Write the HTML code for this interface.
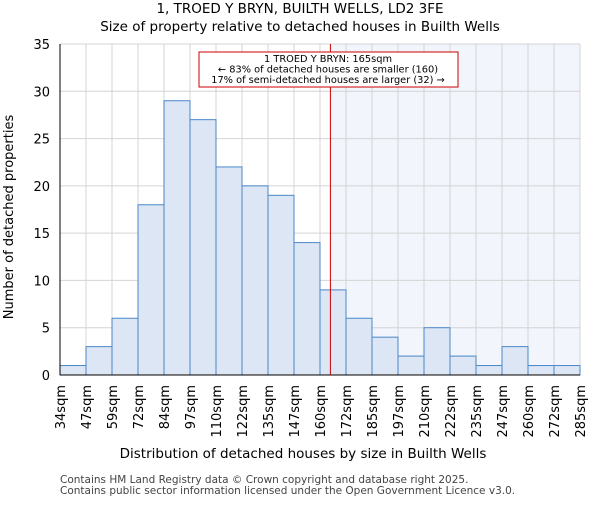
<!DOCTYPE html>
<html><head><meta charset="utf-8"><style>
body{margin:0;background:#fff;}
svg{font-family:"DejaVu Sans","Liberation Sans",sans-serif;}
</style></head><body>
<svg id="chart" width="600" height="500" xmlns="http://www.w3.org/2000/svg">
<text x="300" y="13" text-anchor="middle" font-size="13.5">1, TROED Y BRYN, BUILTH WELLS, LD2 3FE</text>
<text x="300" y="31" text-anchor="middle" font-size="13.5">Size of property relative to detached houses in Builth Wells</text>
<g id="plot"></g>
<text x="303" y="458" text-anchor="middle" font-size="13.5">Distribution of detached houses by size in Builth Wells</text>
<text transform="translate(13,217) rotate(-90)" text-anchor="middle" font-size="13">Number of detached properties</text>
<text x="60" y="483" font-size="10.5" fill="#444">Contains HM Land Registry data © Crown copyright and database right 2025.</text>
<text x="60" y="494" font-size="10.5" fill="#444">Contains public sector information licensed under the Open Government Licence v3.0.</text>
</svg>
<script>
const categories=["34sqm","47sqm","59sqm","72sqm","84sqm","97sqm","110sqm","122sqm","135sqm","147sqm","160sqm","172sqm","185sqm","197sqm","210sqm","222sqm","235sqm","247sqm","260sqm","272sqm","285sqm"];
const counts=[1,3,6,18,29,27,22,20,19,14,9,6,4,2,5,2,1,3,1,1];
const yTicks=[0,5,10,15,20,25,30,35];
const markerBin=10.4;
const NS="http://www.w3.org/2000/svg";
const L=60,R=580,T=44,B=375,YMAX=35;
const bw=(R-L)/counts.length;
const xs=i=>L+i*bw;
const ys=v=>B-(v/YMAX)*(B-T);
const g=document.getElementById('plot');
function mk(t,a){const e=document.createElementNS(NS,t);for(const k in a)e.setAttribute(k,a[k]);g.appendChild(e);return e;}
const mx=xs(markerBin);
let e=mk('rect',{x:mx,y:T,width:R-mx,height:B-T,fill:'#f2f5fc'});


for(let i=0;i<=counts.length;i++){mk('line',{x1:xs(i),x2:xs(i),y1:T,y2:B,stroke:'#d4d4d4','stroke-width':1});}
yTicks.forEach(v=>{mk('line',{x1:L,x2:R,y1:ys(v),y2:ys(v),stroke:'#d4d4d4','stroke-width':1});
 e=mk('text',{x:L-10,y:ys(v)+5,'text-anchor':'end','font-size':13});e.textContent=v;
 
 });
counts.forEach((c,i)=>{e=mk('rect',{x:xs(i),y:ys(c),width:bw,height:B-ys(c),fill:'#dce6f4',stroke:'#4a86c8','stroke-width':1});
 
 });
mk('line',{x1:L,x2:L,y1:T,y2:B,stroke:'#000'});
mk('line',{x1:L,x2:R,y1:B,y2:B,stroke:'#000'});
categories.forEach((c,i)=>{const x=xs(i);
 e=mk('text',{transform:`translate(${x+5},${B+10}) rotate(-90)`,'text-anchor':'end','font-size':13});e.textContent=c;
 
 });
e=mk('line',{x1:mx,x2:mx,y1:T,y2:B,stroke:'#cc0000','stroke-width':1});


e=mk('rect',{x:199,y:52,width:259,height:35,fill:'#fff',stroke:'#cc0000','stroke-width':1});


["1 TROED Y BRYN: 165sqm","← 83% of detached houses are smaller (160)","17% of semi-detached houses are larger (32) →"].forEach((s,k)=>{
 e=mk('text',{x:328,y:62+k*10.5,'text-anchor':'middle','font-size':9.8});e.textContent=s;
 
 });
</script>
</body></html>
